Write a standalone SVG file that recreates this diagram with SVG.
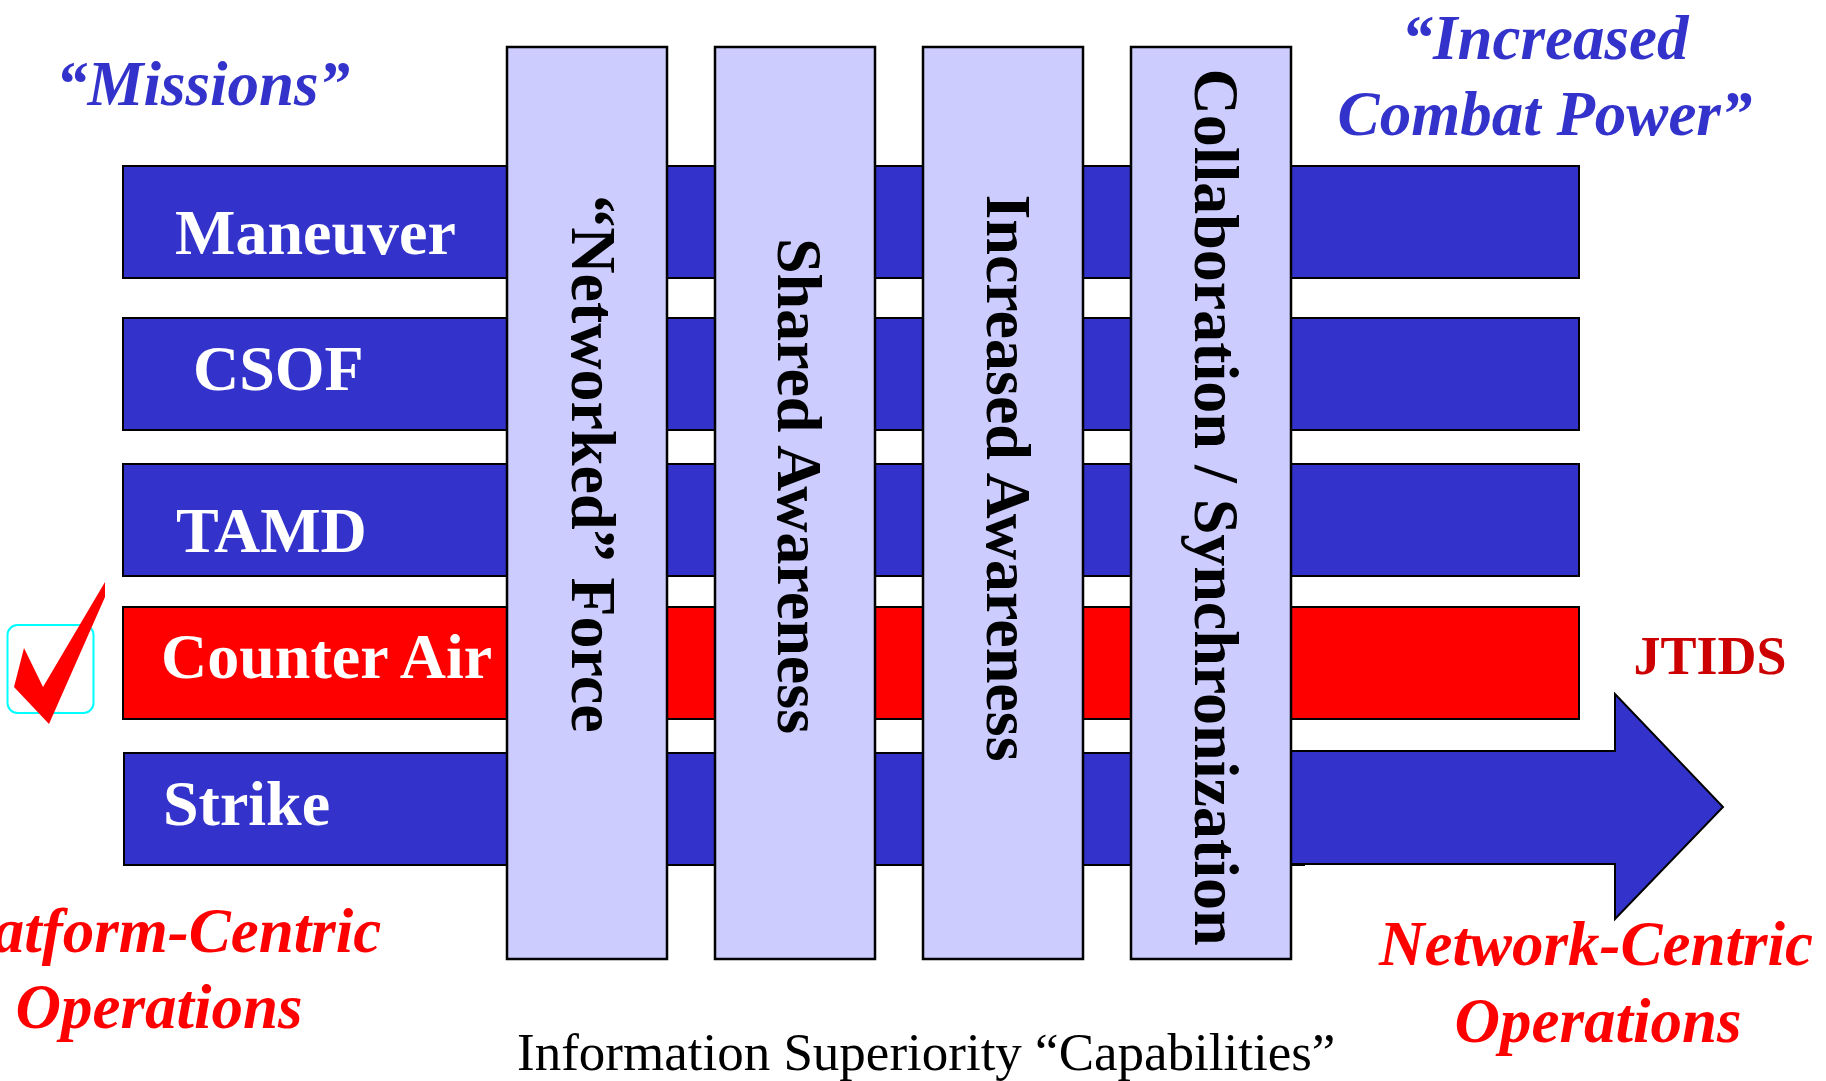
<svg xmlns="http://www.w3.org/2000/svg" width="1826" height="1081" viewBox="0 0 1826 1081">
<style>
.bar{fill:#3333CC;stroke:#000;stroke-width:2}
.red{fill:#FF0000;stroke:#000;stroke-width:2}
.col{fill:#CCCCFF;stroke:#000;stroke-width:2.5}
.lbl{font-family:"Liberation Serif","Times New Roman",serif;font-weight:bold;font-size:64px;fill:#fff}
.vt{font-family:"Liberation Serif","Times New Roman",serif;font-weight:bold;font-size:64px;fill:#000;text-anchor:middle}
.ttl{font-family:"Liberation Serif","Times New Roman",serif;font-weight:bold;font-style:italic;font-size:63px}
.blue{fill:#3333CC}
.rt{fill:#FF0000}
</style>
<rect width="1826" height="1081" fill="#fff"/>
<g id="missions-title"><text class="ttl blue" x="56" y="105">“Missions”</text></g>
<g id="combat-power-title"><text class="ttl blue" text-anchor="middle"><tspan x="1545" y="59">“Increased</tspan><tspan x="1545" y="135">Combat Power”</tspan></text></g>
<g id="maneuver"><rect class="bar" x="123" y="166" width="1456" height="112"/><text class="lbl" x="175" y="254">Maneuver</text></g>
<g id="csof"><rect class="bar" x="123" y="318" width="1456" height="112"/><text class="lbl" x="193" y="390">CSOF</text></g>
<g id="tamd"><rect class="bar" x="123" y="464" width="1456" height="112"/><text class="lbl" x="176" y="552">TAMD</text></g>
<g id="counter-air"><rect class="red" x="123" y="607" width="1456" height="112"/><text class="lbl" x="161" y="678">Counter Air</text></g>
<g id="strike"><rect class="bar" x="124" y="753" width="1180" height="112"/><text class="lbl" x="163" y="825">Strike</text></g>
<g id="connectors"><polygon class="bar" points="1290,751 1615,751 1615,694 1723,807 1615,919 1615,864 1290,864"/></g>
<g id="col-networked"><rect class="col" x="507" y="47" width="160" height="912"/><text class="vt" transform="translate(572,464) rotate(90)">“Networked” Force</text></g>
<g id="col-shared"><rect class="col" x="715" y="47" width="160" height="912"/><text class="vt" transform="translate(778,486) rotate(90)">Shared Awareness</text></g>
<g id="col-increased"><rect class="col" x="923" y="47" width="160" height="912"/><text class="vt" transform="translate(987,478) rotate(90)">Increased Awareness</text></g>
<g id="col-collab"><rect class="col" x="1131" y="47" width="160" height="912"/><text class="vt" transform="translate(1195,507) rotate(90)">Collaboration / Synchronization</text></g>
<g id="checkmark"><rect x="7.5" y="625" width="86" height="88" rx="10" fill="none" stroke="#00FFFF" stroke-width="2"/><polygon points="14,687 24,648 43,687 105,582 105,597 49,724" fill="#FF0000"/></g>
<g id="jtids"><text class="ttl" style="font-style:normal;font-size:54px" fill="#CC0000" x="1710" y="674" text-anchor="middle">JTIDS</text></g>
<g id="platform-centric"><text class="ttl rt" style="font-size:63px" text-anchor="middle"><tspan x="159" y="952">Platform-Centric</tspan><tspan x="159" y="1028">Operations</tspan></text></g>
<g id="network-centric"><text class="ttl rt" style="font-size:63px" text-anchor="middle"><tspan x="1596" y="965">Network-Centric</tspan><tspan x="1598" y="1042">Operations</tspan></text></g>
<g id="caption"><text x="517" y="1070" font-family="Liberation Serif, Times New Roman, serif" font-size="53" fill="#000">Information Superiority “Capabilities”</text></g>
</svg>
